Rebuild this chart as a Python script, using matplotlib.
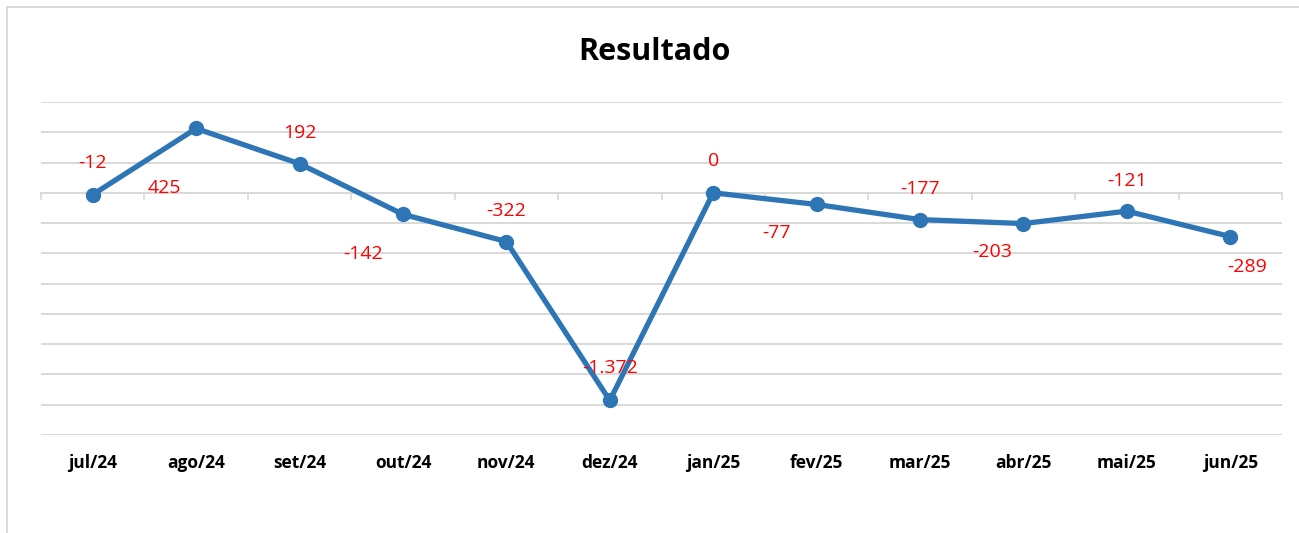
import matplotlib
matplotlib.use("Agg")
import matplotlib.pyplot as plt
from matplotlib.lines import Line2D
import matplotlib.transforms as mtransforms
import numpy as np

categories = ["jul/24", "ago/24", "set/24", "out/24", "nov/24", "dez/24",
              "jan/25", "fev/25", "mar/25", "abr/25", "mai/25", "jun/25"]
values = [-12, 425, 192, -142, -322, -1372, 0, -77, -177, -203, -121, -289]
value_labels = ["-12", "425", "192", "-142", "-322", "-1.372", "0", "-77",
                "-177", "-203", "-121", "-289"]
# label offsets in pixels (dx, dy)
offsets = [(0, 32), (-32, -60), (0, 31), (-40, -40), (0, 31), (0, 32),
           (0, 32), (-40, -29), (0, 31), (-31, -28), (0, 30), (17, -30)]

plt.rcParams['font.family'] = ['Open Sans', 'DejaVu Sans']

fig = plt.figure(figsize=(12.99, 5.33), dpi=100)
W, H = 1299, 533
ax = fig.add_axes([41 / W, 1 - 435 / H, (1282 - 41) / W, (435 - 102) / H])

# chart border (top and left edges visible)
fig.lines.append(Line2D([7 / W, 1.0], [1 - 7 / H, 1 - 7 / H], transform=fig.transFigure,
                        color="#d9d9d9", linewidth=1.4))
fig.lines.append(Line2D([7 / W, 7 / W], [0, 1 - 7 / H], transform=fig.transFigure,
                        color="#d9d9d9", linewidth=1.4))

x = np.arange(len(categories))
ax.set_xlim(-0.5, len(categories) - 0.5)
ax.set_ylim(-1600, 600)
ax.set_yticks(np.arange(-1600, 601, 200))
ax.yaxis.grid(True, color="#d9d9d9", linewidth=1.4)
ax.set_axisbelow(True)
ax.tick_params(axis="y", left=False, labelleft=False)
for s in ["left", "right", "top"]:
    ax.spines[s].set_visible(False)
ax.spines["bottom"].set_position(("data", 0))
ax.spines["bottom"].set_color("#d9d9d9")
ax.spines["bottom"].set_linewidth(1.4)
ax.set_xticks(np.arange(-0.5, len(categories)))
ax.tick_params(axis="x", direction="out", length=5, width=1.2, color="#d9d9d9",
               labelbottom=False)

ax.plot(x, values, color="#2E75B6", linewidth=3.8, marker="o", markersize=10,
        solid_capstyle="round", zorder=3, clip_on=False)

for xi, v, lab, (dx, dy) in zip(x, values, value_labels, offsets):
    ax.annotate(lab, (xi, v), xytext=(dx * 0.72, dy * 0.72), textcoords="offset points",
                ha="center", va="center", color="#FF0000", fontsize=14, zorder=4)

trans = mtransforms.blended_transform_factory(ax.transData, fig.transFigure)
for xi, c in zip(x, categories):
    ax.text(xi, 1 - 463 / H, c, transform=trans, ha="center", va="center",
            fontsize=12.5, fontweight="bold", color="black")

fig.text(654 / W, 1 - 52 / H, "Resultado", ha="center", va="center",
         fontsize=22, fontweight="bold", color="black")

fig.savefig("out.png", dpi=100)
